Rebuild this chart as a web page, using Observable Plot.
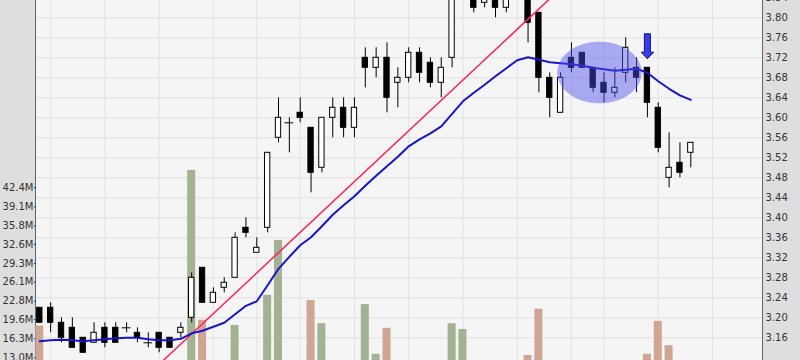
<!DOCTYPE html>
<html>
<head>
<meta charset="utf-8">
<script src="https://cdn.jsdelivr.net/npm/d3@7"></script>
<script src="https://cdn.jsdelivr.net/npm/@observablehq/plot@0.6"></script>
<style>
  html, body { margin: 0; padding: 0; background: #dedede; }
  #chart { position: relative; width: 800px; height: 360px; background: #dedede; overflow: hidden; }
  #panel { position: absolute; left: 35px; top: 0; width: 726px; height: 360px; background: #f5f5f5;
           border-left: 1px solid #5f6868; border-right: 1px solid #5f6868; }
  #chart svg { position: absolute; left: 0; top: 0; }
</style>
</head>
<body>
<div id="chart"><div id="panel"></div></div>
<script>
// ---- Data (trading-day index 0..60) ----
const opens = [3.22,3.22,3.19,3.18,3.16,3.15,3.18,3.18,3.18,3.17,
               3.15,3.17,3.16,3.17,3.20,3.30,3.23,3.26,3.28,3.38,
               3.33,3.38,3.56,3.59,3.61,3.58,3.50,3.60,3.62,3.58,
               3.72,3.70,3.72,3.67,3.68,3.73,3.71,3.67,3.72,3.88,
               3.86,3.83,3.86,3.82,3.88,3.86,3.81,3.68,3.61,3.72,
               3.73,3.70,3.67,3.65,3.69,3.70,3.70,3.62,3.48,3.51,3.53];
const highs = [3.22,3.23,3.20,3.20,3.16,3.19,3.19,3.19,3.19,3.18,
               3.17,3.17,3.16,3.19,3.29,3.30,3.26,3.28,3.37,3.40,
               3.36,3.53,3.64,3.60,3.64,3.58,3.60,3.64,3.64,3.64,
               3.74,3.74,3.75,3.70,3.74,3.74,3.72,3.72,3.88,3.92,
               3.88,3.87,3.88,3.87,3.90,3.88,3.81,3.69,3.69,3.75,
               3.73,3.70,3.69,3.70,3.76,3.72,3.70,3.63,3.57,3.55,3.55];
const lows  = [3.19,3.17,3.15,3.14,3.13,3.15,3.14,3.15,3.17,3.15,
               3.14,3.13,3.14,3.16,3.19,3.23,3.23,3.25,3.28,3.36,
               3.33,3.37,3.55,3.53,3.59,3.45,3.49,3.56,3.56,3.56,
               3.66,3.68,3.61,3.62,3.67,3.67,3.66,3.64,3.70,3.86,
               3.81,3.82,3.80,3.81,3.85,3.75,3.65,3.60,3.61,3.69,
               3.70,3.65,3.63,3.64,3.67,3.65,3.60,3.53,3.46,3.48,3.50];
const closes= [3.19,3.19,3.16,3.14,3.13,3.17,3.15,3.15,3.18,3.16,
               3.15,3.14,3.14,3.18,3.28,3.23,3.25,3.27,3.36,3.37,
               3.34,3.53,3.60,3.59,3.60,3.49,3.60,3.62,3.58,3.62,
               3.70,3.72,3.64,3.68,3.73,3.69,3.67,3.70,3.87,3.90,
               3.82,3.86,3.82,3.86,3.86,3.79,3.68,3.64,3.68,3.70,
               3.70,3.66,3.65,3.66,3.74,3.68,3.63,3.54,3.50,3.49,3.55];
// volume in millions
const volumes = [18.5,11.8,9.6,10.4,8.7,7.9,9.1,8.3,6.8,7.4,
                 8.8,9.9,7.6,10.2,45.4,19.5,11.3,10.7,18.6,12.1,
                 10.9,23.8,33.3,12.2,11.6,22.9,18.9,11.4,10.6,9.8,
                 22.2,13.6,18.1,11.0,10.3,9.5,8.9,10.1,18.9,17.9,
                 11.7,9.3,10.8,8.6,12.0,13.4,21.4,12.3,11.1,9.7,
                 8.4,10.5,9.0,7.7,11.9,10.0,13.6,19.3,15.1,12.2,11.4];
// moving average
const movingAvg = [3.153,3.155,3.156,3.155,3.153,3.155,3.157,3.159,3.160,3.160,
                   3.157,3.155,3.155,3.158,3.169,3.174,3.182,3.190,3.207,3.224,
                   3.233,3.265,3.298,3.322,3.345,3.361,3.383,3.406,3.425,3.443,
                   3.464,3.484,3.503,3.522,3.543,3.557,3.569,3.583,3.608,3.633,
                   3.650,3.666,3.683,3.699,3.715,3.721,3.716,3.711,3.709,3.707,
                   3.704,3.700,3.697,3.694,3.696,3.698,3.690,3.673,3.658,3.645,3.636];
// week-start gridlines (trading-day index)
const weekStarts = [1,6,11,16,20,24,29,34,39,44,49,52,57,62];
// axis ticks
const priceTicks = [3.16,3.20,3.24,3.28,3.32,3.36,3.40,3.44,3.48,3.52,3.56,3.60,3.64,3.68,3.72,3.76,3.80,3.84];
const volTicks  = [13.0,16.3,19.6,22.8,26.1,29.3,32.6,35.8,39.1,42.4];
const volLabels = ["13.0M","16.3M","19.6M","22.8M","26.1M","29.3M","32.6M","35.8M","39.1M","42.4M"];
// annotations
const trendIdx = [11, 47];
const trendPrice = [3.107, 3.838];
const ellipseCenter = [51.63, 3.6896];
const ellipseRadius = [3.89, 0.0616];
const arrowAt = [56, 3.743];

// ---- Build tables ----
const candles = opens.map((o, i) => ({
  i, o, h: highs[i], l: lows[i], c: closes[i], v: volumes[i], ma: movingAvg[i],
  up: i === 0 ? closes[i] >= o : closes[i] >= closes[i - 1]
}));
const trend = trendIdx.map((i, k) => ({i, p: trendPrice[k]}));
const ell = d3.range(0, 121).map(k => {
  const t = Math.PI * k / 120;
  return {
    x: ellipseCenter[0] + ellipseRadius[0] * Math.cos(t),
    y1: ellipseCenter[1] - ellipseRadius[1] * Math.sin(t),
    y2: ellipseCenter[1] + ellipseRadius[1] * Math.sin(t)
  };
});
const arrow = [{i: arrowAt[0], p: arrowAt[1]}];

const arrowSymbol = {
  draw(ctx, size) {
    const s = Math.sqrt(size / Math.PI);
    ctx.moveTo(-0.24 * s, -s);
    ctx.lineTo(0.24 * s, -s);
    ctx.lineTo(0.24 * s, 0.47 * s);
    ctx.lineTo(0.5 * s, 0.47 * s);
    ctx.lineTo(0, s);
    ctx.lineTo(-0.5 * s, 0.47 * s);
    ctx.lineTo(-0.24 * s, 0.47 * s);
    ctx.closePath();
  }
};

// ---- Layout ----
const base = {
  width: 800, height: 360,
  marginLeft: 36, marginRight: 38, marginTop: 0, marginBottom: 0,
  style: {background: "transparent", fontFamily: "DejaVu Sans", fontSize: "10px", color: "#333", overflow: "visible"}
};
const xScale = {domain: [-0.304, 66.608], axis: null};
const priceDomain = [3.1146, 3.8346];
const volDomain = [12.533, 74.795];
const gridColor = "#e2e2e2";
const upVol = "#a4b294";
const downVol = "#cfa593";

const chart = document.getElementById("chart");

// Layer 1: grid
chart.appendChild(Plot.plot({
  ...base,
  x: xScale,
  y: {domain: priceDomain, axis: null},
  marks: [
    Plot.ruleY(priceTicks, {stroke: gridColor, strokeWidth: 1}),
    Plot.ruleX(weekStarts, {stroke: gridColor, strokeWidth: 1})
  ]
}));

// Layer 2: volume
chart.appendChild(Plot.plot({
  ...base,
  x: xScale,
  y: {domain: volDomain, axis: "left", ticks: volTicks,
      tickFormat: d => volLabels[volTicks.indexOf(d)],
      tickSize: 2, tickPadding: 1, label: null},
  marks: [
    Plot.rect(candles, {
      x1: d => d.i - 0.369, x2: d => d.i + 0.369,
      y1: volDomain[0], y2: "v",
      fill: d => d.up ? upVol : downVol
    })
  ]
}));

// Layer 3: price
chart.appendChild(Plot.plot({
  ...base,
  x: xScale,
  y: {domain: priceDomain, axis: "right", ticks: priceTicks,
      tickFormat: d => d.toFixed(2), tickSize: 0, tickPadding: 3, label: null},
  marks: [
    Plot.ruleX(candles, {x: "i", y1: "l", y2: "h", stroke: "black", strokeWidth: 1}),
    Plot.rect(candles.filter(d => d.o !== d.c), {
      x1: d => d.i - 0.245, x2: d => d.i + 0.245,
      y1: "o", y2: "c",
      fill: d => d.c > d.o ? "white" : "black",
      stroke: "black", strokeWidth: 1
    }),
    Plot.ruleY(candles.filter(d => d.o === d.c), {
      y: "o", x1: d => d.i - 0.4, x2: d => d.i + 0.4, stroke: "black", strokeWidth: 1
    }),
    Plot.line(trend, {x: "i", y: "p", stroke: "#ff2456", strokeWidth: 1.5, clip: true}),
    Plot.line(candles, {x: "i", y: "ma", stroke: "#1616c8", strokeWidth: 2}),
    Plot.areaY(ell, {x: "x", y1: "y1", y2: "y2", fill: "#4d4df0", fillOpacity: 0.45}),
    Plot.dot(arrow, {x: "i", y: "p", r: 12.5, symbol: arrowSymbol,
                     fill: "#3a3af5", stroke: "#14145a", strokeWidth: 1})
  ]
}));
</script>
</body>
</html>
